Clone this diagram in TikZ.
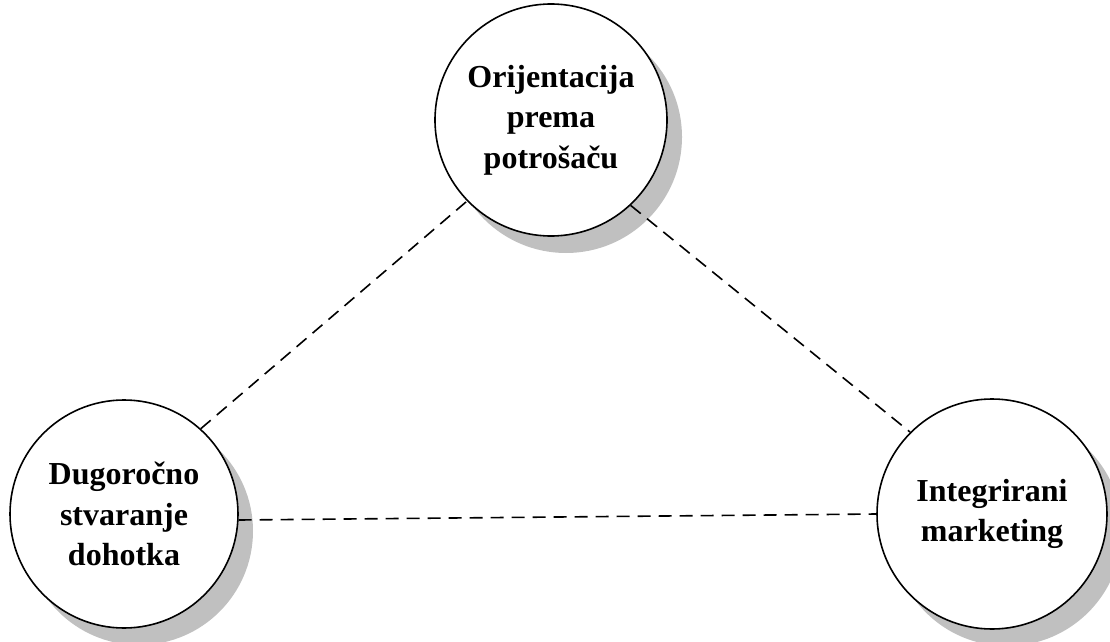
\documentclass[tikz,border=0pt]{standalone}
\usepackage{fontspec}
\setmainfont{Liberation Serif}
\usetikzlibrary{shadows}
\definecolor{shadowgray}{RGB}{192,192,192}
\begin{document}
\begin{tikzpicture}[x=1pt,y=1pt,
  topic/.style={circle, draw, line width=1.6pt, fill=white, minimum size=232pt,
    inner sep=0pt, align=center, font=\bfseries\fontsize{32}{40.5}\selectfont,
    drop shadow={shadow xshift=15pt, shadow yshift=-17pt, fill=shadowgray, opacity=1}},
  link/.style={line width=1.6pt, dash pattern=on 13pt off 8pt}]
\useasboundingbox (0,0) rectangle (1110,641);
\node[topic] (T) at (551,521) {Orijentacija\\prema\\potrošaču};
\node[topic, minimum size=228pt] (L) at (124,127) {Dugoročno\\stvaranje\\dohotka};
\node[topic, minimum size=230pt] (R) at (992,127) {Integrirani\\marketing};
\draw[link] (L.48) -- (T.224);
\draw[link] (T.-47) -- (R.135);
\draw[link] (L.-3.5) -- (R.180);
\end{tikzpicture}
\end{document}
